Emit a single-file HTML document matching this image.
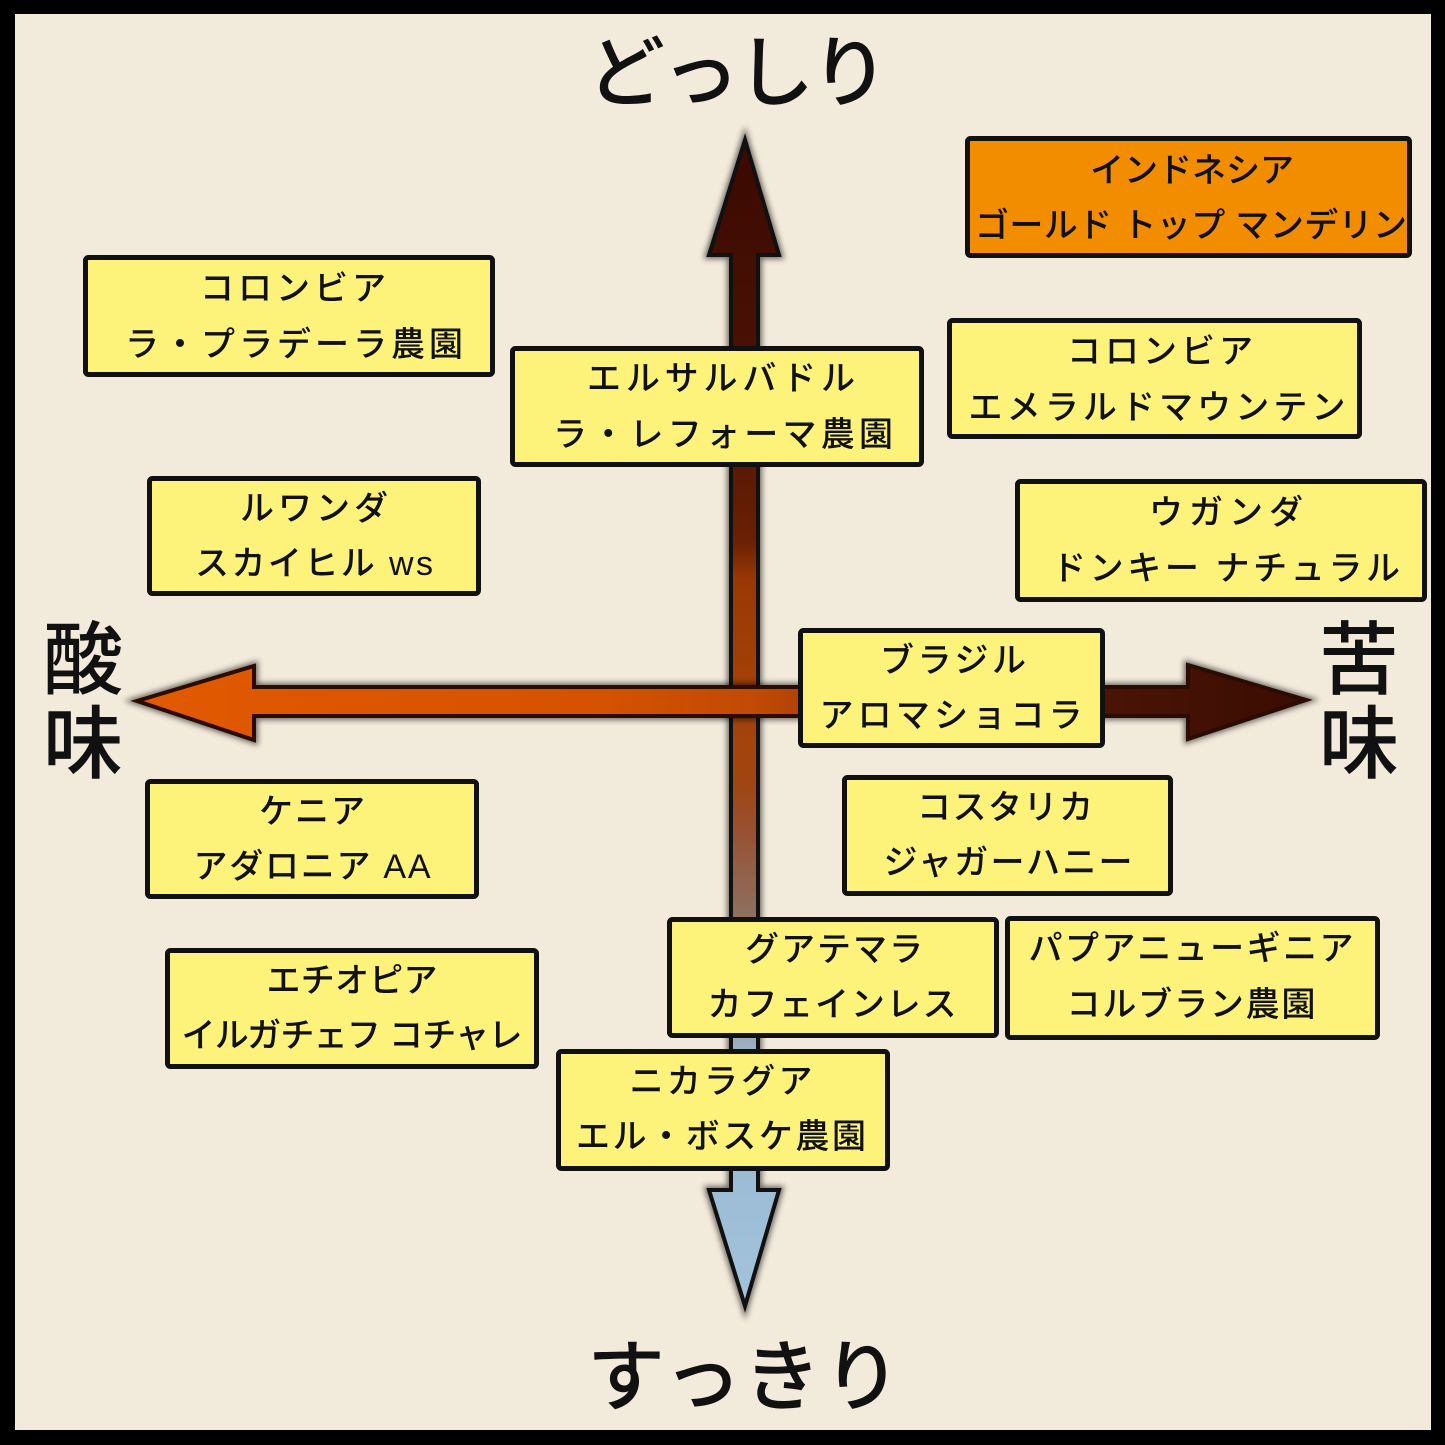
<!DOCTYPE html>
<html>
<head>
<meta charset="utf-8">
<style>
html,body{margin:0;padding:0;background:#000;}
svg{display:block;}
.t{font-family:"Liberation Sans","Noto Sans CJK JP",sans-serif;font-weight:500;font-size:34px;fill:#111;}
.big{font-family:"Liberation Sans","Noto Sans CJK JP",sans-serif;font-weight:500;font-size:78px;fill:#111;}
.k{font-family:"Liberation Sans","Noto Sans CJK JP",sans-serif;font-weight:500;font-size:80px;fill:#111;}
</style>
</head>
<body>
<svg width="1445" height="1445" viewBox="0 0 1445 1445" xmlns="http://www.w3.org/2000/svg">
<defs>
  <filter id="glow" x="-20%" y="-20%" width="140%" height="140%">
    <feGaussianBlur stdDeviation="3"/>
  </filter>
  <linearGradient id="gv" gradientUnits="userSpaceOnUse" x1="0" y1="138" x2="0" y2="1308">
    <stop offset="0" stop-color="#3a0902"/>
    <stop offset="0.224" stop-color="#4d1304"/>
    <stop offset="0.344" stop-color="#6a2004"/>
    <stop offset="0.378" stop-color="#9a3805"/>
    <stop offset="0.48" stop-color="#a54208"/>
    <stop offset="0.549" stop-color="#a04510"/>
    <stop offset="0.59" stop-color="#985030"/>
    <stop offset="0.651" stop-color="#8f6a58"/>
    <stop offset="0.737" stop-color="#9a8f88"/>
    <stop offset="0.775" stop-color="#9bb0c2"/>
    <stop offset="0.899" stop-color="#9dbdd6"/>
    <stop offset="1" stop-color="#a3c3db"/>
  </linearGradient>
  <linearGradient id="gh" gradientUnits="userSpaceOnUse" x1="135" y1="0" x2="1308" y2="0">
    <stop offset="0" stop-color="#e25a00"/>
    <stop offset="0.396" stop-color="#d55200"/>
    <stop offset="0.533" stop-color="#c04a05"/>
    <stop offset="0.652" stop-color="#8a3008"/>
    <stop offset="0.827" stop-color="#4a1405"/>
    <stop offset="1" stop-color="#3a0c02"/>
  </linearGradient>
</defs>

<!-- frame & background -->
<rect x="0" y="0" width="1445" height="1445" fill="#000"/>
<rect x="15" y="14" width="1416" height="1416" fill="#f2eadb"/>

<!-- vertical arrow -->
<polygon points="745,140 779,255 758,255 758,1190 779,1190 745,1306 709,1190 731,1190 731,255 709,255"
  fill="none" stroke="#000" stroke-opacity="0.55" stroke-width="8" filter="url(#glow)"/>
<polygon points="745,140 779,255 758,255 758,1190 779,1190 745,1306 709,1190 731,1190 731,255 709,255"
  fill="url(#gv)" stroke="#111" stroke-width="4" stroke-linejoin="miter"/>

<!-- horizontal arrow -->
<polygon points="137,701 254,666 254,687 1188,687 1188,665 1306,700 1188,739 1188,716 254,716 254,740"
  fill="none" stroke="#000" stroke-opacity="0.55" stroke-width="8" filter="url(#glow)"/>
<polygon points="137,701 254,666 254,687 1188,687 1188,665 1306,700 1188,739 1188,716 254,716 254,740"
  fill="url(#gh)" stroke="#2a0c02" stroke-width="4" stroke-linejoin="miter"/>

<!-- boxes -->
<g stroke="#111" stroke-width="5">
  <rect x="967.5" y="138.5" width="442" height="117" rx="3" fill="#f28d00"/>
  <rect x="85.5" y="257.5" width="407" height="117" rx="3" fill="#fdf27a"/>
  <rect x="512.5" y="348.5" width="409" height="116" rx="3" fill="#fdf27a"/>
  <rect x="949.5" y="320.5" width="410" height="116" rx="3" fill="#fdf27a"/>
  <rect x="149.5" y="478.5" width="329" height="115" rx="3" fill="#fdf27a"/>
  <rect x="1017.5" y="481.5" width="407" height="118" rx="3" fill="#fdf27a"/>
  <rect x="800.5" y="630.5" width="302" height="115" rx="3" fill="#fdf27a"/>
  <rect x="147.5" y="781.5" width="329" height="115" rx="3" fill="#fdf27a"/>
  <rect x="844.5" y="777.5" width="326" height="116" rx="3" fill="#fdf27a"/>
  <rect x="669.5" y="919.5" width="327" height="116" rx="3" fill="#fdf27a"/>
  <rect x="1007.5" y="918.5" width="370" height="119" rx="3" fill="#fdf27a"/>
  <rect x="167.5" y="950.5" width="369" height="116" rx="3" fill="#fdf27a"/>
  <rect x="558.5" y="1051.5" width="329" height="117" rx="3" fill="#fdf27a"/>
</g>

<!-- box text -->
<g class="t" text-anchor="middle">
  <text x="1192" y="182" textLength="204" lengthAdjust="spacing">インドネシア</text>
  <text x="1191" y="237" textLength="432" lengthAdjust="spacing">ゴールド トップ マンデリン</text>

  <text x="293" y="300" textLength="186" lengthAdjust="spacing">コロンビア</text>
  <text x="294" y="356" textLength="338" lengthAdjust="spacing">ラ・プラデーラ農園</text>

  <text x="721" y="390" textLength="268" lengthAdjust="spacing">エルサルバドル</text>
  <text x="723" y="446" textLength="340" lengthAdjust="spacing">ラ・レフォーマ農園</text>

  <text x="1160" y="363" textLength="186" lengthAdjust="spacing">コロンビア</text>
  <text x="1157" y="419" textLength="377" lengthAdjust="spacing">エメラルドマウンテン</text>

  <text x="314" y="520" textLength="148" lengthAdjust="spacing">ルワンダ</text>
  <text x="314" y="575" textLength="238" lengthAdjust="spacing">スカイヒル ws</text>

  <text x="1226" y="524" textLength="154" lengthAdjust="spacing">ウガンダ</text>
  <text x="1226" y="580" textLength="348" lengthAdjust="spacing">ドンキー ナチュラル</text>

  <text x="953" y="672" textLength="146" lengthAdjust="spacing">ブラジル</text>
  <text x="951" y="727" textLength="263" lengthAdjust="spacing">アロマショコラ</text>

  <text x="312" y="823" textLength="106" lengthAdjust="spacing">ケニア</text>
  <text x="312" y="878" textLength="237" lengthAdjust="spacing">アダロニア AA</text>

  <text x="1005" y="819" textLength="176" lengthAdjust="spacing">コスタリカ</text>
  <text x="1008" y="874" textLength="249" lengthAdjust="spacing">ジャガーハニー</text>

  <text x="834" y="961" textLength="178" lengthAdjust="spacing">グアテマラ</text>
  <text x="832" y="1016" textLength="249" lengthAdjust="spacing">カフェインレス</text>

  <text x="1191" y="960" textLength="325" lengthAdjust="spacing">パプアニューギニア</text>
  <text x="1191" y="1016" textLength="249" lengthAdjust="spacing">コルブラン農園</text>

  <text x="352" y="992" textLength="171" lengthAdjust="spacing">エチオピア</text>
  <text x="352" y="1047" textLength="341" lengthAdjust="spacing">イルガチェフ コチャレ</text>

  <text x="721" y="1093" textLength="183" lengthAdjust="spacing">ニカラグア</text>
  <text x="721" y="1148" textLength="290" lengthAdjust="spacing">エル・ボスケ農園</text>
</g>

<!-- axis labels -->
<text class="big" x="738" y="100" text-anchor="middle" textLength="302" lengthAdjust="spacing">どっしり</text>
<text class="big" x="744" y="1404" text-anchor="middle" textLength="314" lengthAdjust="spacing">すっきり</text>

<text class="k" x="83" y="688" text-anchor="middle">酸</text>
<text class="k" x="83" y="772" text-anchor="middle">味</text>
<text class="k" x="1359" y="688" text-anchor="middle">苦</text>
<text class="k" x="1359" y="772" text-anchor="middle">味</text>
</svg>
</body>
</html>
